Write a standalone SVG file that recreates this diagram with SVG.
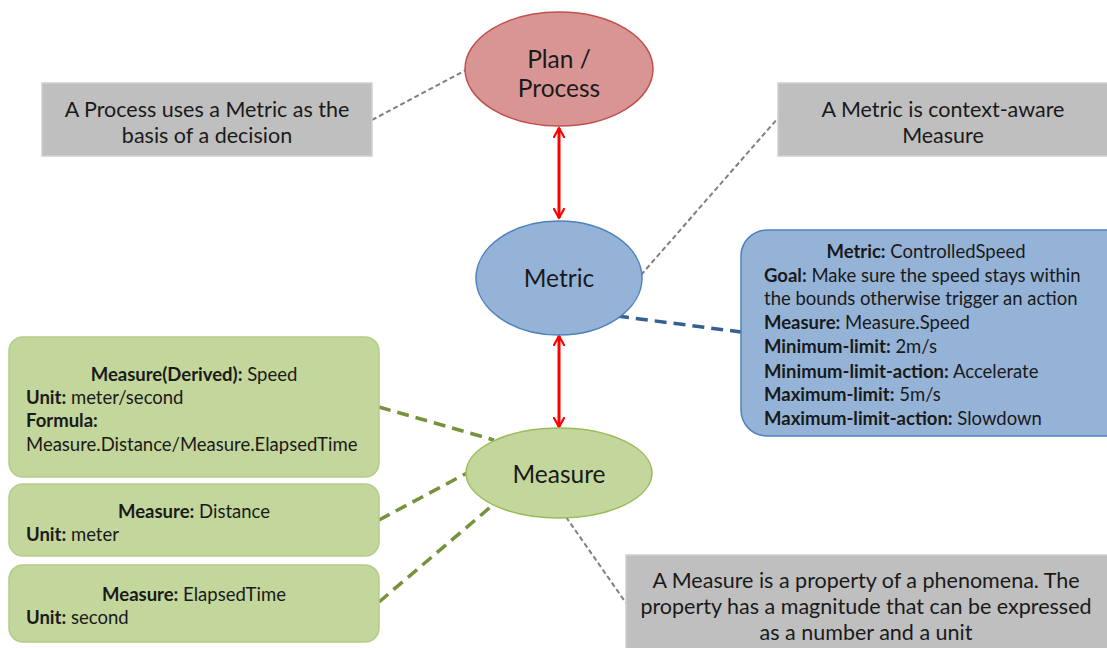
<svg xmlns="http://www.w3.org/2000/svg" width="1107" height="648" viewBox="0 0 1107 648">
<defs>
<marker id="arr" viewBox="0 0 12 12" refX="10" refY="6" markerWidth="12" markerHeight="12" markerUnits="userSpaceOnUse" orient="auto-start-reverse">
<path d="M1,1 L10,6 L1,11" fill="none" stroke="#ff0000" stroke-width="2.2" stroke-linecap="round" stroke-linejoin="round"/>
</marker>
</defs>
<style>
text{font-family:"Lato","Liberation Sans",sans-serif;fill:#1a1a1a}
.note{fill:#bfbfbf;stroke:#d0d0d0;stroke-width:1.5}
.nt{font-size:21.5px;text-anchor:middle}
.big{font-size:24.5px;text-anchor:middle}
.bt{font-size:18.5px}
.gt{font-size:18.5px}
.b{font-weight:bold}
.gline{stroke:#7f7f7f;stroke-width:2;stroke-dasharray:5,3;fill:none}
.grline{stroke:#76923c;stroke-width:3.5;stroke-dasharray:12,7;fill:none}
.blline{stroke:#376092;stroke-width:3.5;stroke-dasharray:12,7;fill:none}
.red{stroke:#ff0000;stroke-width:3;fill:none}
.gbox{fill:#c3d69b;stroke:#b5cc8a;stroke-width:1.5}
</style>
<g id="connectors">
<line class="gline" x1="372" y1="120" x2="466" y2="70"/>
<line class="gline" x1="641" y1="275" x2="778" y2="118"/>
<line class="gline" x1="566" y1="517" x2="626" y2="603"/>
<line class="blline" x1="617" y1="316" x2="741" y2="332"/>
<line class="grline" x1="379" y1="407" x2="494" y2="440"/>
<line class="grline" x1="379" y1="520" x2="467" y2="473"/>
<line class="grline" x1="379" y1="602" x2="494" y2="504"/>
<line class="red" x1="559" y1="128" x2="559" y2="218" marker-start="url(#arr)" marker-end="url(#arr)"/>
<line class="red" x1="559" y1="336" x2="559" y2="427" marker-start="url(#arr)" marker-end="url(#arr)"/>
</g>
<g id="note-process">
<rect class="note" x="42" y="83" width="330" height="73"/>
<text class="nt" x="207" y="117">A Process uses a Metric as the</text>
<text class="nt" x="207" y="143">basis of a decision</text>
</g>
<g id="plan-process">
<ellipse cx="559" cy="69" rx="94" ry="57" fill="#d99594" stroke="#c0504d" stroke-width="1.5"/>
<text class="big" x="559" y="68">Plan /</text>
<text class="big" x="559" y="97">Process</text>
</g>
<g id="note-metric">
<rect class="note" x="778" y="83" width="330" height="73"/>
<text class="nt" x="943" y="117">A Metric is context-aware</text>
<text class="nt" x="943" y="143">Measure</text>
</g>
<g id="metric">
<ellipse cx="559" cy="278" rx="83" ry="57" fill="#95b3d7" stroke="#4f81bd" stroke-width="1.5"/>
<text class="big" x="559" y="287">Metric</text>
</g>
<g id="metric-detail">
<rect x="741" y="230" width="390" height="206" rx="26" fill="#95b3d7" stroke="#4f81bd" stroke-width="1.5"/>
<text class="bt" x="926" y="258" text-anchor="middle"><tspan class="b">Metric:</tspan> ControlledSpeed</text>
<text class="bt" x="764" y="282"><tspan class="b">Goal:</tspan> Make sure the speed stays within</text>
<text class="bt" x="764" y="305">the bounds otherwise trigger an action</text>
<text class="bt" x="764" y="329"><tspan class="b">Measure:</tspan> Measure.Speed</text>
<text class="bt" x="764" y="353"><tspan class="b">Minimum-limit:</tspan> 2m/s</text>
<text class="bt" x="764" y="378"><tspan class="b">Minimum-limit-action:</tspan> Accelerate</text>
<text class="bt" x="764" y="401"><tspan class="b">Maximum-limit:</tspan> 5m/s</text>
<text class="bt" x="764" y="425"><tspan class="b">Maximum-limit-action:</tspan> Slowdown</text>
</g>
<g id="measure">
<ellipse cx="559" cy="473" rx="93" ry="45" fill="#c3d69b" stroke="#9bbb59" stroke-width="1.5"/>
<text class="big" x="559" y="483">Measure</text>
</g>
<g id="measure-speed">
<rect class="gbox" x="9" y="337" width="370" height="140" rx="14"/>
<text class="gt" x="194" y="381" text-anchor="middle"><tspan class="b">Measure(Derived):</tspan> Speed</text>
<text class="gt" x="26" y="404"><tspan class="b">Unit:</tspan> meter/second</text>
<text class="gt" x="26" y="427"><tspan class="b">Formula:</tspan></text>
<text class="gt" x="26" y="451">Measure.Distance/Measure.ElapsedTime</text>
</g>
<g id="measure-distance">
<rect class="gbox" x="9" y="484" width="370" height="72" rx="14"/>
<text class="gt" x="194" y="518" text-anchor="middle"><tspan class="b">Measure:</tspan> Distance</text>
<text class="gt" x="26" y="541"><tspan class="b">Unit:</tspan> meter</text>
</g>
<g id="measure-time">
<rect class="gbox" x="9" y="565" width="370" height="77" rx="14"/>
<text class="gt" x="194" y="601" text-anchor="middle"><tspan class="b">Measure:</tspan> ElapsedTime</text>
<text class="gt" x="26" y="624"><tspan class="b">Unit:</tspan> second</text>
</g>
<g id="note-measure">
<rect class="note" x="626" y="555" width="490" height="100"/>
<text class="nt" x="866" y="588">A Measure is a property of a phenomena. The</text>
<text class="nt" x="866" y="614">property has a magnitude that can be expressed</text>
<text class="nt" x="866" y="640">as a number and a unit</text>
</g>
</svg>
